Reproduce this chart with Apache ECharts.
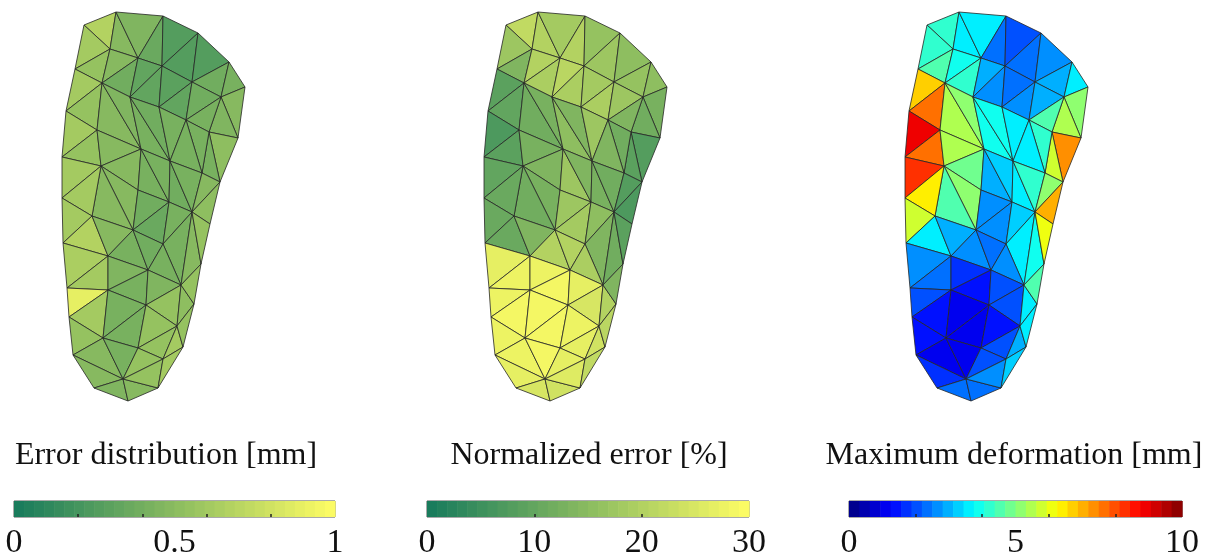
<!DOCTYPE html>
<html>
<head>
<meta charset="utf-8">
<script src="https://cdn.jsdelivr.net/npm/echarts@6/dist/echarts.min.js"></script>
<style>
html, body { margin: 0; padding: 0; background: #fff; }
#main { width: 1217px; height: 560px; }
</style>
</head>
<body>
<div id="main"></div>
<script>
// mesh nodes (shared by the three panels)
var nodeIds = ['a','b','c','d','e','f','g','h','i','j','k','l','m','n','o','p','q','r','s','s2',
    't','u','v','w','x','z1','y','v2','aa','bb','cc','dd','ee','ff','gg','hh','ii','jj','kk','ll',
    'mm','nn','qq','oo','pp','rr','ss','uu','tt','vv','ww','xx','zz','yy'];
var nodeX = [84,116,163,198,229,245,110,138,162,192,75,102,130,159,221,186,66,97,238,209,
    141,170,62,101,202,220,138,62,169,192,210,92,133,163,63,108,148,201,181,108,
    67,146,194,69,177,103,138,183,73,163,123,94,158,128];
var nodeY = [25,12,16,33,62,87,49,58,66,82,69,83,97,107,97,120,111,130,138,132,
    149,161,157,166,173,182,190,198,202,212,224,216,230,244,243,256,270,264,285,290,
    288,305,304,317,326,338,348,347,355,359,379,388,388,401];

var triangles = ['a b g','b h g','b c h','c i h','c d i','d j i','d e j','e o j','e f o','a g k',
    'g l k','g h l','h m l','h i m','i n m','i j n','j p n','j o p','k l q','l r q',
    'l t r','l m t','m u t','m n u','n p u','o f s','o s s2','o s2 p','s2 s z1','s2 z1 x',
    'p s2 x','p x u','q r v','r w v','r t w','t y w','v w v2','t aa y','t u aa','u bb aa',
    'u x bb','x z1 bb','z1 cc bb','w y ee','w ee dd','w dd v2','y aa ee','aa ff ee','aa bb ff','bb kk ff',
    'bb jj kk','bb cc jj','v2 dd gg','dd hh gg','dd ee hh','ee ii hh','ee ff ii','ff kk ii','gg hh mm','hh ll mm',
    'hh ii ll','ii nn ll','ii kk nn','kk pp nn','kk qq pp','kk jj qq','mm ll oo','ll rr oo','ll nn rr','nn ss rr',
    'nn pp ss','pp vv ss','pp uu vv','pp qq uu','oo rr tt','rr ww tt','rr ss ww','ss vv ww','tt ww xx','xx ww yy',
    'ww zz yy','ww vv zz','vv uu zz'];

// values per triangle
var errorVals = [0.66,0.48,0.45,0.36,0.25,0.27,0.28,0.38,0.43,0.62,
    0.56,0.48,0.38,0.32,0.32,0.29,0.34,0.38,0.60,0.56,
    0.48,0.45,0.43,0.38,0.41,0.48,0.45,0.43,0.52,0.43,
    0.41,0.43,0.60,0.56,0.48,0.48,0.61,0.43,0.41,0.38,
    0.41,0.48,0.52,0.48,0.48,0.62,0.38,0.35,0.41,0.43,
    0.48,0.54,0.60,0.66,0.48,0.43,0.38,0.43,0.65,0.62,
    0.45,0.41,0.45,0.54,0.52,0.56,0.88,0.60,0.43,0.43,
    0.54,0.56,0.60,0.56,0.56,0.48,0.43,0.56,0.48,0.45,
    0.48,0.56,0.60];
var normVals = [22,20,18,20,16,17,15,16,15,17,
    14,20,19,21,19,18,19,17,9,10,
    12,13,15,14,17,13,12,14,8,9,
    12,14,7,9,13,14,10,17,14,13,
    12,8,7,13,12,11,17,18,15,14,
    12,9,11,11,14,20,20,19,27,28,
    28,29,27,25,20,14,28,29,29,29,
    28,27,24,21,28,28,29,27,27,25,
    24,26,22];
var deformVals = [4.1,3.6,3.5,2.2,2.0,2.3,2.6,3.0,3.7,4.2,
    4.5,4.0,4.2,3.1,2.8,2.2,2.5,2.9,6.8,7.6,
    5.5,5.0,3.9,3.8,3.6,5.2,5.4,4.4,7.2,5.8,
    4.2,3.7,8.8,7.6,5.6,4.9,8.2,3.0,3.4,3.7,
    4.2,5.3,6.9,5.0,4.5,6.3,2.5,2.7,3.2,3.5,
    4.0,6.2,5.7,3.7,3.0,2.6,2.3,2.7,2.6,2.4,
    1.7,1.3,1.9,2.0,3.6,4.4,1.9,1.3,1.0,1.0,
    1.4,2.0,3.0,3.7,1.5,1.2,1.1,1.9,1.7,2.2,
    2.4,2.8,3.4];

var titles = ['Error distribution [mm]', 'Normalized error [%]', 'Maximum deformation [mm]'];
var ranges = [1, 30, 10];
var tickLabels = [[0, 0.5, 1], [0, 10, 20, 30], [0, 5, 10]];
var minorTicks = [[0.2, 0.4, 0.6, 0.8], [10, 20], [2, 4, 6, 8]];
var nLevels = 32;

function clamp(v) { return Math.max(0, Math.min(1, v)); }
function summer(t) {
    return 'rgb(' + Math.round(22 + 233 * t) + ',' + Math.round(122 + 131 * t) + ',' + Math.round(92 + 8 * t) + ')';
}
function jet(t) {
    var r = clamp(1.5 - Math.abs(4 * t - 3));
    var g = clamp(1.5 - Math.abs(4 * t - 2));
    var b = clamp(1.5 - Math.abs(4 * t - 1));
    return 'rgb(' + Math.round(r * 255) + ',' + Math.round(g * 255) + ',' + Math.round(b * 255) + ')';
}
var cmaps = [summer, summer, jet];
function levelColor(p, t) {
    var k = Math.min(nLevels - 1, Math.max(0, Math.floor(t * nLevels)));
    return cmaps[p]((k + 0.5) / nLevels);
}

var nodeIndex = {};
nodeIds.forEach(function (id, i) { nodeIndex[id] = i; });
var triNodes = triangles.map(function (s) {
    return s.split(' ').map(function (id) { return nodeIndex[id]; });
});

var panelVals = [errorVals, normVals, deformVals];
var meshLeft = [55, 477, 898];
var barLeft = [14, 427, 849];
var barWidth = [321, 322, 333];
var titleX = [166, 589, 1014];

var grids = [], xAxes = [], yAxes = [], series = [], graphics = [];

panelVals.forEach(function (vals, p) {
    // mesh panel
    grids.push({ left: meshLeft[p], top: 5, width: 195, height: 400 });
    xAxes.push({ gridIndex: grids.length - 1, type: 'value', min: 55, max: 250, show: false });
    yAxes.push({ gridIndex: grids.length - 1, type: 'value', min: 5, max: 405, inverse: true, show: false });
    var meshData = triNodes.map(function (tn, ti) {
        var cx = (nodeX[tn[0]] + nodeX[tn[1]] + nodeX[tn[2]]) / 3;
        var cy = (nodeY[tn[0]] + nodeY[tn[1]] + nodeY[tn[2]]) / 3;
        return [cx, cy, vals[ti], ti];
    });
    series.push({
        type: 'custom',
        xAxisIndex: grids.length - 1,
        yAxisIndex: grids.length - 1,
        clip: false,
        silent: true,
        data: meshData,
        renderItem: (function (pp) {
            return function (params, api) {
                var tn = triNodes[api.value(3)];
                var pts = tn.map(function (n) { return api.coord([nodeX[n], nodeY[n]]); });
                return {
                    type: 'polygon',
                    shape: { points: pts },
                    style: {
                        fill: levelColor(pp, api.value(2) / ranges[pp]),
                        stroke: '#262626',
                        lineWidth: 0.8,
                        lineJoin: 'round'
                    }
                };
            };
        })(p)
    });

    // colour bar
    grids.push({ left: barLeft[p], top: 501, width: barWidth[p], height: 22, show: true,
        borderColor: '#555', borderWidth: 1, backgroundColor: 'transparent' });
    xAxes.push({
        gridIndex: grids.length - 1, type: 'value', min: 0, max: ranges[p],
        axisLine: { show: false },
        splitLine: { show: false },
        axisTick: { show: true, inside: true, length: 3, customValues: minorTicks[p],
            lineStyle: { color: '#222', width: 1.5 } },
        axisLabel: { customValues: tickLabels[p], margin: 9, fontSize: 34,
            fontFamily: 'Liberation Serif', color: '#111' },
        z: 5
    });
    yAxes.push({ gridIndex: grids.length - 1, type: 'value', min: 0, max: 1, show: false });
    var levels = [];
    for (var k = 0; k < nLevels; k++) levels.push([k, 0]);
    series.push({
        type: 'custom',
        xAxisIndex: grids.length - 1,
        yAxisIndex: grids.length - 1,
        silent: true,
        data: levels,
        renderItem: (function (pp) {
            return function (params, api) {
                var k = api.value(0);
                var step = ranges[pp] / nLevels;
                var p0 = api.coord([k * step, 1]);
                var p1 = api.coord([(k + 1) * step, 0]);
                return {
                    type: 'rect',
                    shape: { x: p0[0], y: p0[1], width: p1[0] - p0[0] + 0.6, height: p1[1] - p0[1] },
                    style: { fill: levelColor(pp, (k + 0.5) / nLevels) }
                };
            };
        })(p)
    });

    graphics.push({
        type: 'text',
        x: titleX[p],
        y: 456,
        style: {
            text: titles[p],
            font: '32px "Liberation Serif"',
            fill: '#111',
            textAlign: 'center',
            textVerticalAlign: 'middle'
        }
    });
});

var myChart = echarts.init(document.getElementById('main'));
var option = {
    backgroundColor: '#ffffff',
    animation: false,
    grid: grids,
    xAxis: xAxes,
    yAxis: yAxes,
    series: series,
    graphic: graphics
};
myChart.setOption(option);
</script>
</body>
</html>
